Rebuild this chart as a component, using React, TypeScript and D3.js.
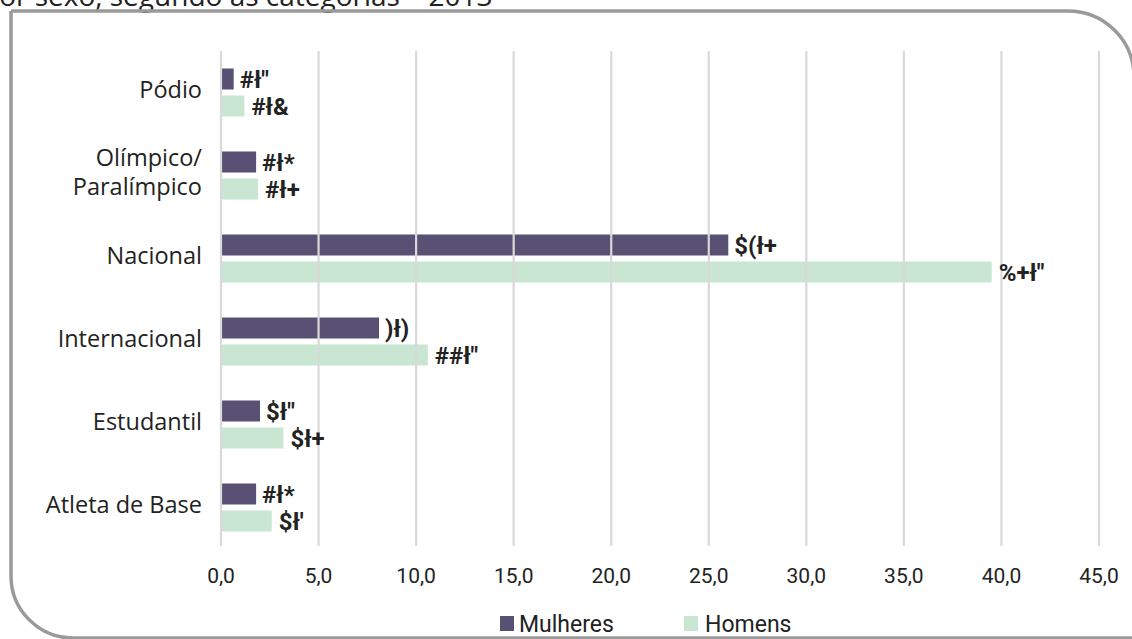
import React from "react";
import * as d3 from "d3";

const categories = ["Pódio", "Olímpico/\nParalímpico", "Nacional", "Internacional", "Estudantil", "Atleta de Base"];
const mulheres = [0.65, 1.8, 26.0, 8.1, 2.0, 1.8];
const homens = [1.2, 1.9, 39.5, 10.6, 3.2, 2.6];
const mulheresLabels = ["#ł\"", "#ł*", "$(ł+", ")ł)", "$ł\"", "#ł*"];
const homensLabels = ["#ł&", "#ł+", "%+ł\"", "##ł\"", "$ł+", "$ł'"];
const ticks = [0, 5, 10, 15, 20, 25, 30, 35, 40, 45];
const seriesNames = ["Mulheres", "Homens"];
const title = "por sexo, segundo as categorias – 2013";

const W = 1132;
const H = 639;
const C_M = "#595173";
const C_H = "#c8e6d2";
const narrow = "Roboto, 'Noto Sans', sans-serif";
const sans = "'Open Sans', 'Noto Sans', sans-serif";

export default function App() {
  const x = d3.scaleLinear().domain([0, 45]).range([221, 1099]);
  const y = d3.scaleBand<string>().domain(categories).range([51, 549]).padding(0);
  const barH = 21;
  const gap = 3;
  const fmt = (v: number) => v.toFixed(1).replace(".", ",");

  return (
    <svg width={W} height={H} style={{ position: "absolute", left: 0, top: 0, background: "#fff" }}>
      <rect x={0} y={0} width={W} height={H} fill="#fff" />
      <text x={-18} y={6} fontFamily={sans} fontSize={28} fill="#222">{title}</text>
      <path d={`M11,11 H1068 A66,66 0 0 1 1134,77 V700`} fill="none" stroke="#9a9a9a" strokeWidth={3.5} />
      <path d={`M11,11 V576 A62,62 0 0 0 73,638 H1200`} fill="none" stroke="#9a9a9a" strokeWidth={3.5} />

      {categories.map((c, i) => {
        const cy = (y(c) as number) + y.bandwidth() / 2;
        return (
          <g key={c}>
            <rect x={x(0)} y={cy - gap - barH} width={x(mulheres[i]) - x(0)} height={barH} fill={C_M} />
            <rect x={x(0)} y={cy + gap} width={x(homens[i]) - x(0)} height={barH} fill={C_H} />
          </g>
        );
      })}

      {ticks.map((t) => (
        <line key={t} x1={x(t)} x2={x(t)} y1={51} y2={546} stroke="#d9d9d9" strokeWidth={2.2} />
      ))}

      {categories.map((c, i) => {
        const cy = (y(c) as number) + y.bandwidth() / 2;
        const lines = c.split("\n");
        return (
          <g key={"l" + c}>
            {lines.map((ln, k) => (
              <text
                key={k}
                x={202}
                y={cy - 4 + (k - (lines.length - 1) / 2) * 29}
                textAnchor="end"
                dominantBaseline="central"
                fontFamily={sans}
                fontSize={23.5}
                fill="#222"
              >
                {ln}
              </text>
            ))}
            <text x={x(mulheres[i]) + 6} y={cy - gap - barH / 2 + 1} dominantBaseline="central" fontFamily={narrow} fontWeight="bold" fontSize={24} fill="#222">
              {mulheresLabels[i]}
            </text>
            <text x={x(homens[i]) + 7} y={cy + gap + barH / 2 + 1} dominantBaseline="central" fontFamily={narrow} fontWeight="bold" fontSize={24} fill="#222">
              {homensLabels[i]}
            </text>
          </g>
        );
      })}

      {ticks.map((t) => (
        <text key={"t" + t} x={x(t)} y={576} textAnchor="middle" dominantBaseline="central" fontFamily={narrow} fontSize={21} fill="#222">
          {fmt(t)}
        </text>
      ))}

      <rect x={500} y={616} width={14} height={15} fill={C_M} />
      <text x={519} y={624} dominantBaseline="central" fontFamily={narrow} fontSize={23} fill="#222">{seriesNames[0]}</text>
      <rect x={684} y={616} width={14} height={15} fill={C_H} />
      <text x={705} y={624} dominantBaseline="central" fontFamily={narrow} fontSize={23} fill="#222">{seriesNames[1]}</text>
    </svg>
  );
}
